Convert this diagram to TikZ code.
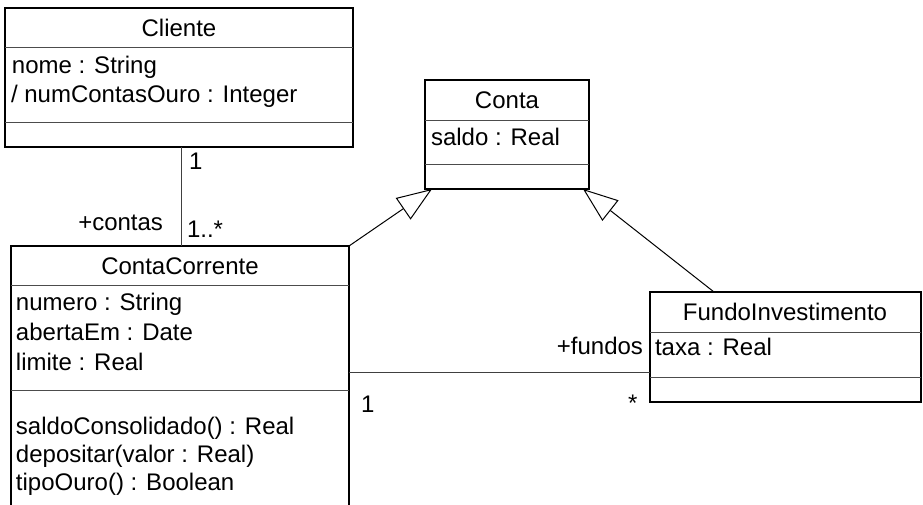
\documentclass[tikz,border=0pt]{standalone}
\usepackage{fontspec}
\setmainfont{Liberation Sans}
\usetikzlibrary{arrows.meta}

\tikzset{
  classbox/.style={draw=black, line width=1.3pt, fill=none, inner sep=0pt, outer sep=0pt, anchor=north west},
  divider/.style={draw=black!70, line width=1pt},
  txt/.style={font=\fontsize{24}{28}\selectfont, inner sep=0pt, outer sep=0pt, text=black},
  attr/.style={txt, anchor=base west},
  title/.style={txt, anchor=base},
  assoc/.style={draw=black!75, line width=1pt},
  gen/.style={draw=black, line width=1pt, -{Triangle[open, length=35pt, width=26pt]}},
}

\begin{document}
\begin{tikzpicture}[x=1pt, y=-1pt]
  \useasboundingbox (0,0) rectangle (923,505);
  \clip (0,0) rectangle (923,505);

  % Cliente
  \node[classbox, minimum width=348pt, minimum height=139pt] (cli) at (5,8) {};
  \draw[divider] ([yshift=-40pt]cli.north west) -- ([yshift=-40pt]cli.north east);
  \draw[divider] ([yshift=24pt]cli.south west) -- ([yshift=24pt]cli.south east);
  \node[title] (cliT) at (179,37) {Cliente};
  \node[attr] (cliA1) at (12,74) {nome : String};
  \node[attr] (cliA2) at (11,103) {/ numContasOuro : Integer};

  % Conta
  \node[classbox, minimum width=164pt, minimum height=109pt] (ct) at (425,80) {};
  \draw[divider] ([yshift=-41pt]ct.north west) -- ([yshift=-41pt]ct.north east);
  \draw[divider] ([yshift=24pt]ct.south west) -- ([yshift=24pt]ct.south east);
  \node[title] (ctT) at (507,109) {Conta};
  \node[attr] (ctA1) at (431,146) {saldo : Real};

  % ContaCorrente (continues below the lower edge)
  \node[classbox, minimum width=338pt, minimum height=300pt] (cc) at (11,246) {};
  \draw[divider] ([yshift=-39pt]cc.north west) -- ([yshift=-39pt]cc.north east);
  \draw[divider] ([yshift=-144pt]cc.north west) -- ([yshift=-144pt]cc.north east);
  \node[title] (ccT) at (180,274) {ContaCorrente};
  \node[attr] (ccA1) at (16,310) {numero : String};
  \node[attr] (ccA2) at (16,340) {abertaEm : Date};
  \node[attr] (ccA3) at (16,370) {limite : Real};
  \node[attr] (ccM1) at (16,434) {saldoConsolidado() : Real};
  \node[attr] (ccM2) at (16,462) {depositar(valor : Real)};
  \node[attr] (ccM3) at (16,490) {tipoOuro() : Boolean};

  % FundoInvestimento
  \node[classbox, minimum width=271pt, minimum height=110pt] (fi) at (650,292) {};
  \draw[divider] ([yshift=-40pt]fi.north west) -- ([yshift=-40pt]fi.north east);
  \draw[divider] ([yshift=25pt]fi.south west) -- ([yshift=25pt]fi.south east);
  \node[title] (fiT) at (785,320) {FundoInvestimento};
  \node[attr] (fiA1) at (655,355) {taxa : Real};

  % Association Cliente -- ContaCorrente
  \draw[assoc] ([xshift=2pt]cli.south) -- ([xshift=2pt]cli.south |- cc.north);
  \node[txt, anchor=base west] (m1) at (189,170) {1};
  \node[txt, anchor=base west] (m2) at (187,237) {1..*};
  \node[txt, anchor=base east] (r1) at (163,230) {+contas};

  % Association ContaCorrente -- FundoInvestimento
  \draw[assoc] ([yshift=30pt]fi.south west) -- ([yshift=30pt]fi.south west -| cc.east);
  \node[txt, anchor=base west] (m3) at (361,412) {1};
  \node[txt, anchor=base west] (m4) at (628,411) {*};
  \node[txt, anchor=base east] (r2) at (643,354) {+fundos};

  % Generalizations
  \draw[gen] (cc.north east) -- ([xshift=7pt]ct.south west);
  \draw[gen] ([xshift=64pt]fi.north west) -- ([xshift=-6pt]ct.south east);
\end{tikzpicture}
\end{document}
